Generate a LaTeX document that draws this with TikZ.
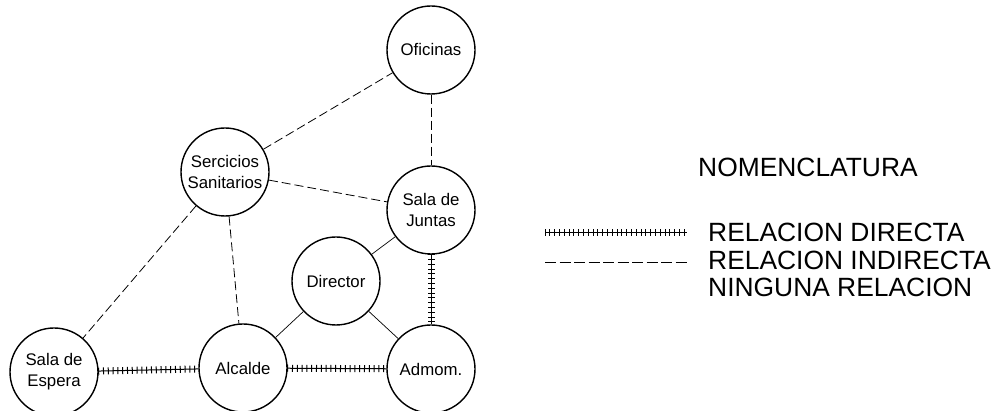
\documentclass[tikz,border=0pt]{standalone}
\usepackage{fontspec}
\setmainfont{Liberation Sans}
\usetikzlibrary{decorations.pathreplacing}
\begin{document}
\begin{tikzpicture}[x=1pt,y=-1pt,
  room/.style={circle, draw, line width=1.4pt, minimum size=88pt, inner sep=0pt, align=center, font=\fontsize{16.8}{21}\selectfont},
  direct/.style={line width=1pt, postaction={draw, decorate, decoration={ticks, segment length=4.8pt, amplitude=3.5pt}}},
  indirect/.style={line width=0.8pt, dash pattern=on 9pt off 4pt},
  plainrel/.style={line width=0.7pt},
  legend/.style={font=\fontsize{26.4}{30}\selectfont, anchor=base west, inner sep=0pt}]
\clip (0,0) rectangle (997,411);
\fill[white] (0,0) rectangle (997,411);

\node[room] (ofi) at (431,50) {Oficinas};
\node[room] (serv) at (225,172) {Sercicios\\Sanitarios};
\node[room] (junt) at (431,210) {Sala de\\Juntas};
\node[room] (dir) at (336,281) {Director};
\node[room] (esp) at (54,372) {Sala de\\Espera};
\node[room] (alc) at (243,368) {Alcalde};
\node[room] (adm) at (431,369) {Admom.};

\draw[indirect] (serv) -- (ofi);
\draw[indirect] (ofi) -- (junt);
\draw[indirect] (serv) -- (junt);
\draw[indirect] (serv) -- (esp);
\draw[indirect] (serv) -- (alc);
\draw[plainrel] (junt) -- (dir);
\draw[plainrel] (dir) -- (alc);
\draw[plainrel] (dir) -- (adm);
\draw[direct] (junt) -- (adm);
\draw[direct] (esp) -- (alc);
\draw[direct] (alc) -- (adm);

\node[legend] (nom) at (698,177) {NOMENCLATURA};
\node[legend] (ldir) at (708,242) {RELACION DIRECTA};
\node[legend] (lind) at (708,270) {RELACION INDIRECTA};
\node[legend] (lnin) at (708,297) {NINGUNA RELACION};

\coordinate (d1) at (545,233);
\coordinate (d2) at (687,233);
\coordinate (i1) at (545,262);
\coordinate (i2) at (687,262);
\draw[direct] (d1) -- (d2);
\draw[line width=0.8pt, dash pattern=on 11pt off 3.5pt] (i1) -- (i2);
\end{tikzpicture}
\end{document}
